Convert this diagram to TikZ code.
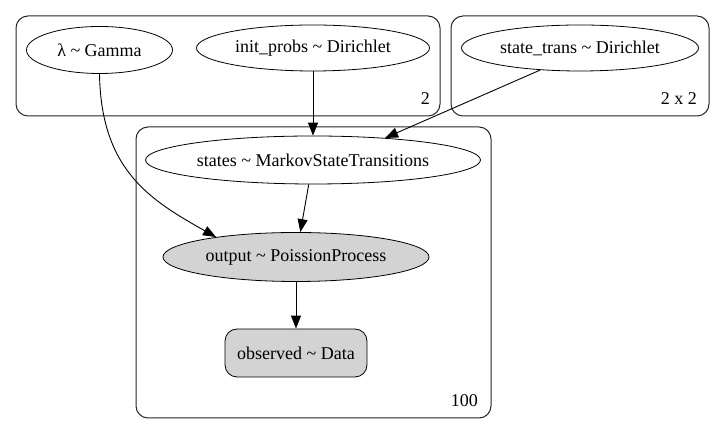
\documentclass[tikz,border=0pt]{standalone}
\usepackage{fontspec}
\setmainfont{Liberation Serif}
\usepackage{tikz}
\usetikzlibrary{shapes.geometric}
\usetikzlibrary{arrows.meta}
\definecolor{obsgray}{HTML}{D3D3D3}

\begin{document}
\begin{tikzpicture}[x=1pt,y=1pt]
    \tikzstyle{dedge} = [line width=0.9pt,-{Triangle[length=13pt,width=10pt]},draw=black]
    \tikzstyle{plate} = [line width=1pt,draw=black!85,rounded corners=12pt]
    \tikzstyle{rv}=[
      ellipse,
      draw=black,
      line width=0.8pt,
      inner sep=0pt,
      font=\fontsize{18}{20}\selectfont,
    ]
    \tikzstyle{obsbox}=[
      rectangle,
      rounded corners=12pt,
      draw=black,
      fill=obsgray,
      line width=0.8pt,
      inner sep=0pt,
      font=\fontsize{18}{20}\selectfont,
    ]
    \tikzstyle{platelabel}=[anchor=base east,inner sep=0pt,font=\fontsize{18}{20}\selectfont]

    \useasboundingbox (0,0) rectangle (725,435);

    % plates
    \draw[plate] (16,319) rectangle (440,419);
    \draw[plate] (451,319) rectangle (709,419);
    \draw[plate] (136,17) rectangle (491,308);
    \node[platelabel] (dim2) at (430,330) {2};
    \node[platelabel] (dim22) at (697,330) {2 x 2};
    \node[platelabel] (dim100) at (478,28) {100};

    % variables
    \node[rv, minimum width=146pt, minimum height=47pt] (lam) at (99.5,385) {λ \textasciitilde{} Gamma};
    \node[rv, minimum width=233pt, minimum height=46pt] (initp) at (313,387) {init\_probs \textasciitilde{} Dirichlet};
    \node[rv, minimum width=237pt, minimum height=46pt] (strans) at (580,387) {state\_trans \textasciitilde{} Dirichlet};
    \node[rv, minimum width=335pt, minimum height=48pt] (states) at (313,275) {states \textasciitilde{} MarkovStateTransitions};
    \node[rv, fill=obsgray, minimum width=266pt, minimum height=49pt] (output) at (296,178) {output \textasciitilde{} PoissionProcess};
    \node[obsbox, minimum width=142pt, minimum height=48pt] (observed) at (296,82) {observed \textasciitilde{} Data};

    \draw[dedge] (lam.south) .. controls (101,265) and (150,235) .. (output.166);
    \draw[dedge] (initp)--(states);
    \draw[dedge] (strans.209)--(states.17);
    \draw[dedge] (states)--(output);
    \draw[dedge] (output)--(observed);
  \end{tikzpicture}
\end{document}
